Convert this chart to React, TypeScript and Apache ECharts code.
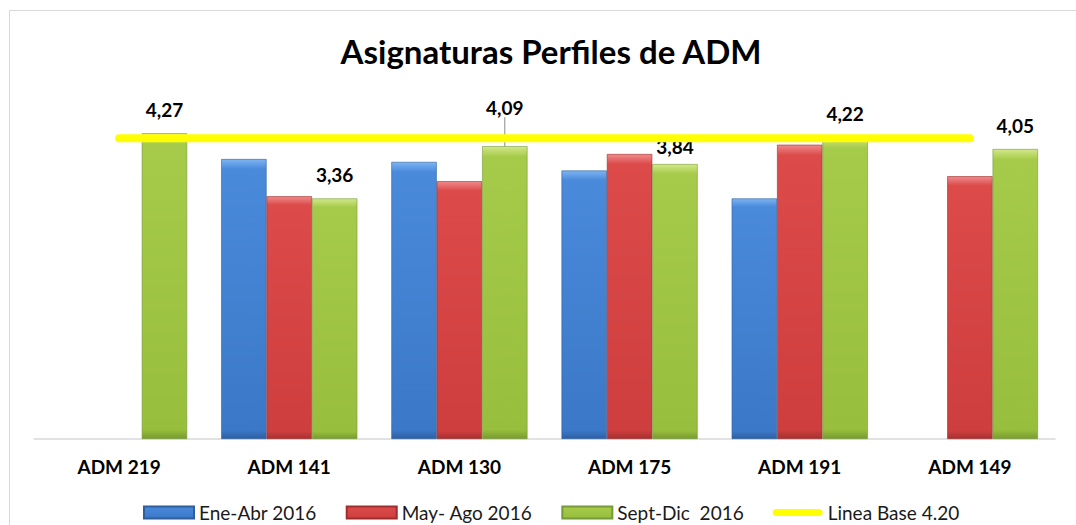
import React, { useEffect, useRef } from "react";
import * as echarts from "echarts";

const categories = ["ADM 219", "ADM 141", "ADM 130", "ADM 175", "ADM 191", "ADM 149"];
const eneAbr: (number | null)[] = [null, 3.91, 3.87, 3.75, 3.36, null];
const mayAgo: (number | null)[] = [null, 3.39, 3.6, 3.98, 4.11, 3.67];
const septDic: number[] = [4.27, 3.36, 4.09, 3.84, 4.22, 4.05];
const lineaBase: number[] = [4.2, 4.2, 4.2, 4.2, 4.2, 4.2];
const seriesNames = ["Ene-Abr 2016", "May- Ago 2016", "Sept-Dic  2016", "Linea Base 4.20"];

// label vertical nudges for the Sept-Dic labels (style only)
const septLabelShift = [0, 0, -15, 6, 0, 0];
const septLeaderIndex = 2;

const FONT = "Lato, 'Open Sans', sans-serif";

function grad(top: string, body: string, body2: string, bottom: string) {
  return new echarts.graphic.LinearGradient(0, 0, 0, 1, [
    { offset: 0, color: top },
    { offset: 0.035, color: body },
    { offset: 0.97, color: body2 },
    { offset: 1, color: bottom },
  ]);
}

export default function App() {
  const ref = useRef<HTMLDivElement>(null);
  useEffect(() => {
    if (!ref.current) return;
    const chart = echarts.init(ref.current, undefined, { renderer: "svg" });
    const blue = grad("#7DB4F2", "#4A8ADB", "#3B78C7", "#2D5FA2");
    const red = grad("#F08A8A", "#DC4A4A", "#CF3E3E", "#A63030");
    const green = grad("#D2E88A", "#A6CB4A", "#98BE3E", "#789B2E");
    const fmt = (v: number) => v.toFixed(2).replace(".", ",");

    chart.setOption({
      animation: false,
      backgroundColor: "#ffffff",
      textStyle: { fontFamily: FONT },
      title: {
        text: "Asignaturas Perfiles de ADM",
        left: 546,
        textAlign: "center",
        top: 29,
        textStyle: { fontFamily: FONT, fontSize: 33, fontWeight: "bold", color: "#000" },
      },
      graphic: [
        {
          type: "rect",
          shape: { x: 9.5, y: 10.5, width: 1200, height: 700 },
          style: { fill: "none", stroke: "#d9d9d9", lineWidth: 1 },
          silent: true,
          z: 0,
        },
      ],
      legend: {
        bottom: 3,
        left: 143,
        padding: [0, 0],
        itemWidth: 50,
        itemHeight: 12,
        itemGap: 29,
        textStyle: { fontFamily: FONT, fontSize: 19, color: "#1a1a1a" },
        data: [
          { name: seriesNames[0], icon: "rect" },
          { name: seriesNames[1], icon: "rect" },
          { name: seriesNames[2], icon: "rect" },
          {
            name: seriesNames[3],
            icon: "path://M4,0 H52 A4,4 0 0 1 52,8 H4 A4,4 0 0 1 4,0 Z",
          },
        ],
      },
      grid: { left: 34, right: 21, top: 81, bottom: 86 },
      xAxis: {
        type: "category",
        data: categories,
        axisLine: { lineStyle: { color: "#d9d9d9", width: 1.5 } },
        axisTick: { show: false },
        axisLabel: {
          fontFamily: FONT,
          fontSize: 19,
          fontWeight: "bold",
          color: "#000",
          margin: 18,
        },
      },
      yAxis: {
        type: "value",
        min: 0,
        max: 5,
        show: false,
        splitLine: { show: false },
      },
      series: [
        {
          name: seriesNames[0],
          type: "bar",
          data: eneAbr,
          barGap: "0%",
          barCategoryGap: "20%",
          itemStyle: { color: blue, borderColor: "#2F5E9C", borderWidth: 0.6 },
        },
        {
          name: seriesNames[1],
          type: "bar",
          data: mayAgo,
          barGap: "0%",
          barCategoryGap: "20%",
          itemStyle: { color: red, borderColor: "#9E2E2E", borderWidth: 0.6 },
        },
        {
          name: seriesNames[2],
          type: "bar",
          data: septDic.map((v, i) =>
            i === septLeaderIndex
              ? { value: v, labelLine: { show: true, lineStyle: { color: "#8c8c8c", width: 1 } } }
              : v
          ),
          barGap: "0%",
          barCategoryGap: "20%",
          itemStyle: { color: green, borderColor: "#76993A", borderWidth: 0.6 },
          label: {
            show: true,
            position: "top",
            distance: 14,
            fontFamily: FONT,
            fontSize: 19,
            fontWeight: "bold",
            color: "#000",
            formatter: (p: any) => fmt(p.value),
          },
          labelLayout: (p: any) => ({ dy: septLabelShift[p.dataIndex] }),
        },
        {
          name: seriesNames[3],
          type: "line",
          data: lineaBase,
          symbol: "none",
          z: 5,
          color: "#FFFF00",
          lineStyle: {
            color: "#FFFF00",
            width: 8,
            cap: "round",
          },
          itemStyle: { color: "#FFFF00" },
        },
      ],
    });
    return () => chart.dispose();
  }, []);
  return (
    <div
      ref={ref}
      style={{ position: "fixed", left: 0, top: 0, width: 1076, height: 525 }}
    />
  );
}
